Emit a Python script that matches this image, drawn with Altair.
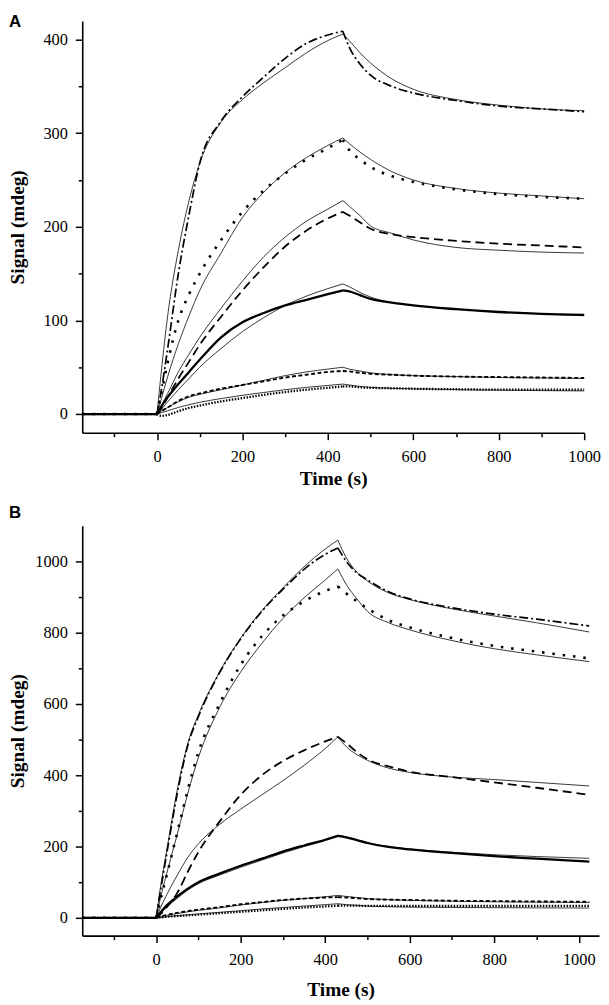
import altair as alt
import pandas as pd

# ---------------- Panel A ----------------
T_A = [-175, 0, 10, 25, 50, 75, 100, 150, 200, 250, 300, 350, 400, 435, 450, 475, 500, 550, 600, 700, 800, 900, 1000]
PEAK_A = 435

A_fit1 = [0, 0, 45, 105, 175, 228, 268, 312, 336, 354, 370, 386, 399, 406, 399, 386, 375, 358, 347, 336, 330, 326, 324]
A_dat1 = [0, 0, 25, 70, 150, 213, 268, 313, 339, 360, 380, 396, 405, 409, 392, 374, 362, 350, 343, 335, 329, 326, 323]
A_fit2 = [0, 0, 16, 40, 75, 105, 132, 172, 210, 237, 258, 274, 287, 295, 289, 280, 272, 259, 250, 241, 236, 233, 230]
A_dat2 = [0, 0, 22, 55, 100, 128, 150, 186, 216, 239, 257, 272, 284, 293, 282, 272, 264, 254, 248, 240, 235, 232, 230]
A_fit3 = [0, 0, 9, 22, 45, 64, 82, 113, 142, 168, 189, 206, 219, 228, 222, 212, 201, 193, 186, 178, 175, 173, 172]
A_dat3 = [0, 0, 6, 18, 38, 56, 74, 104, 132, 157, 179, 196, 209, 216, 212, 205, 198, 192, 189, 185, 182, 180, 178]
A_fit4 = [0, 0, 5, 13, 26, 38, 50, 70, 88, 103, 116, 126, 134, 139, 136, 130, 125, 119, 116, 112, 109, 107, 105]
A_dat4 = [0, 0, 8, 18, 32, 45, 58, 82, 98, 108, 116, 122, 128, 132, 131, 127, 123, 119, 116, 112, 109, 107, 106]
A_fit5 = [0, 0, 3, 7, 13, 18, 21, 26, 31, 36, 41, 45, 48, 50, 48, 46, 44, 42, 41, 40, 39, 38.5, 38]
A_dat5 = [0, 0, 3, 7, 14, 19, 22, 27, 31, 35, 39, 42, 45, 46, 45.5, 44, 43, 42, 41, 40, 39.5, 39, 38.5]
A_fit6 = [0, 0, 1.5, 3.5, 7, 10, 12.5, 16.5, 20, 23, 26, 28.5, 30.5, 32, 31, 29.5, 28.5, 27.5, 27, 26, 25.5, 25, 24.7]
A_dat6 = [0, 0, -2, -1, 3, 6.5, 9, 13.5, 17, 20.5, 23.5, 26, 28, 29.5, 29.5, 28.5, 28, 27.5, 27, 26.5, 26, 26, 26]

# ---------------- Panel B ----------------
T_B = [-175, 0, 10, 25, 50, 75, 100, 150, 200, 250, 300, 350, 400, 430, 450, 475, 500, 550, 600, 700, 800, 900, 1025]
PEAK_B = 430

B_fit1 = [0, 0, 85, 190, 360, 490, 570, 690, 785, 862, 926, 985, 1035, 1060, 1010, 970, 945, 912, 893, 867, 847, 828, 802]
B_dat1 = [0, 0, 75, 180, 350, 485, 565, 688, 783, 860, 922, 978, 1020, 1038, 1000, 968, 948, 915, 895, 870, 852, 838, 819]
B_fit2 = [0, 0, 55, 125, 235, 350, 450, 590, 690, 770, 840, 898, 948, 979, 935, 895, 860, 828, 808, 778, 755, 738, 719]
B_dat2 = [0, 0, 50, 120, 240, 360, 465, 600, 710, 790, 848, 888, 917, 930, 910, 888, 868, 835, 815, 785, 763, 747, 728]
B_fit3 = [0, 0, 28, 65, 120, 170, 208, 262, 305, 345, 385, 428, 475, 508, 480, 458, 442, 420, 408, 395, 388, 380, 370]
B_dat3 = [0, 0, 10, 30, 70, 130, 185, 270, 345, 400, 440, 470, 495, 508, 490, 465, 445, 425, 410, 395, 380, 365, 345]
B_fit4 = [0, 0, 12, 30, 55, 78, 96, 120, 142, 162, 182, 200, 217, 232, 227, 219, 211, 200, 193, 184, 177, 172, 167]
B_dat4 = [0, 0, 15, 35, 60, 82, 100, 124, 146, 166, 186, 203, 219, 230, 226, 218, 210, 199, 192, 182, 173, 166, 158]
B_fit5 = [0, 0, 3, 7, 12, 17, 21, 28, 36, 43, 49, 54, 59, 63, 60, 57, 54, 51, 49, 46.5, 45, 44, 43]
B_dat5 = [0, 0, 4, 8, 14, 19, 23, 30, 38, 44, 50, 54, 57, 58, 57, 55, 53, 51, 50, 48, 47, 46, 45]
B_fit6 = [0, 0, 1, 3, 6, 8.5, 11, 15.5, 20, 25, 29, 33, 37, 39.5, 37, 35, 33, 31, 30, 29, 28.5, 28, 27.5]
B_dat6 = [0, 0, 1, 3, 5, 7, 9, 13, 17, 21, 25, 29, 32, 34, 34, 34, 33.5, 33.5, 33.5, 33.5, 33.5, 33.5, 33.5]

SERIES_A = {"d1": A_dat1, "f1": A_fit1, "d2": A_dat2, "f2": A_fit2, "d3": A_dat3, "f3": A_fit3,
            "d4": A_dat4, "f4": A_fit4, "d5": A_dat5, "f5": A_fit5, "d6": A_dat6, "f6": A_fit6}
SERIES_B = {"d1": B_dat1, "f1": B_fit1, "d2": B_dat2, "f2": B_fit2, "d3": B_dat3, "f3": B_fit3,
            "d4": B_dat4, "f4": B_fit4, "d5": B_dat5, "f5": B_fit5, "d6": B_dat6, "f6": B_fit6}

STYLE = {
    "d1": dict(strokeDash=[9, 3, 2, 3], strokeWidth=1.7, color="black"),
    "d2": dict(strokeDash=[2.5, 8], strokeWidth=2.6, color="black"),
    "d3": dict(strokeDash=[9, 5], strokeWidth=1.8, color="black"),
    "d4": dict(strokeWidth=2.3, color="black"),
    "d5": dict(strokeDash=[4, 2.5], strokeWidth=1.9, color="black"),
    "d6": dict(strokeDash=[1.5, 1.5], strokeWidth=2.3, color="black"),
}
FIT_STYLE = dict(strokeWidth=0.9, color="#222222")

SERIF = "Liberation Serif"


def phased(T, vals, peak):
    """Split a trace into baseline / association / dissociation pieces (shared end points)."""
    rows = []
    for t, v in zip(T, vals):
        if t <= 0:
            rows.append((t, v, 0))
        if 0 <= t <= peak:
            rows.append((t, v, 1))
        if t >= peak:
            rows.append((t, v, 2))
    return pd.DataFrame(rows, columns=["t", "v", "phase"])


def panel(T, series, peak, xdom, ydom, xvals, yvals, ylab_step, xlab_step,
          width, height, letter, letter_y, title_y):
    x_enc = alt.X("t:Q", scale=alt.Scale(domain=xdom, nice=False, zero=False),
                  axis=alt.Axis(values=xvals, title="Time (s)", format="d",
                                labelExpr=f"datum.value % {xlab_step} === 0 ? datum.label : ''",
                                tickSize={"condition": {"test": f"datum.value % {xlab_step} === 0", "value": 7}, "value": 4},
                                labelFont=SERIF, titleFont=SERIF,
                                titleY=title_y, titleBaseline="alphabetic", labelPadding=9))
    y_enc = alt.Y("v:Q", scale=alt.Scale(domain=ydom, nice=False, zero=False),
                  axis=alt.Axis(values=yvals, title="Signal (mdeg)", format="d",
                                labelExpr=f"datum.value % {ylab_step} === 0 ? datum.label : ''",
                                tickSize={"condition": {"test": f"datum.value % {ylab_step} === 0", "value": 7}, "value": 4},
                                labelFont=SERIF, titleFont=SERIF,
                                titleX=-55, titleY=height / 2, titleBaseline="bottom", titleAlign="center",
                                labelPadding=8))
    layers = []
    for key in ["f1", "f2", "f3", "f4", "f5", "f6", "d1", "d2", "d3", "d4", "d5", "d6"]:
        df = phased(T, series[key], peak)
        st = FIT_STYLE if key.startswith("f") else STYLE[key]
        layers.append(alt.Chart(df).mark_line(interpolate="monotone", **st).encode(
            x=x_enc, y=y_enc, detail="phase:N"))
    lab = alt.Chart(pd.DataFrame({"lab": [letter]})).mark_text(
        font="Liberation Sans", fontWeight="bold", fontSize=17, align="left", baseline="top"
    ).encode(text="lab:N", x=alt.value(-74), y=alt.value(letter_y))
    layers.append(lab)
    return alt.layer(*layers).properties(width=width, height=height)


xv = [-100, 0, 100, 200, 300, 400, 500, 600, 700, 800, 900, 1000]
yv_A = [0, 50, 100, 150, 200, 250, 300, 350, 400]
yv_B = [0, 100, 200, 300, 400, 500, 600, 700, 800, 900, 1000]

pA = panel(T_A, SERIES_A, PEAK_A, [-175, 1000], [-20, 420], xv, yv_A, 100, 200, 507, 416, "A", -7, 52)
pB = panel(T_B, SERIES_B, PEAK_B, [-175, 1048], [-50, 1100], xv, yv_B, 200, 200, 522, 414, "B", -21, 60)

chart = alt.vconcat(pA, pB, spacing=16).properties(
    padding={"left": 0, "top": 0, "right": 0, "bottom": 0}
).configure_view(stroke=None).configure_axis(
    grid=False, domainColor="black", domainWidth=1.6, tickColor="black", tickWidth=1.5,
    labelFont=SERIF, labelFontSize=16.5, labelColor="black", labelFlush=False, labelOverlap=False,
    titleFont=SERIF, titleFontSize=19.5, titleFontWeight="bold", titleColor="black"
)

chart.save("out.html", embed_options={"renderer": "svg", "actions": False})
